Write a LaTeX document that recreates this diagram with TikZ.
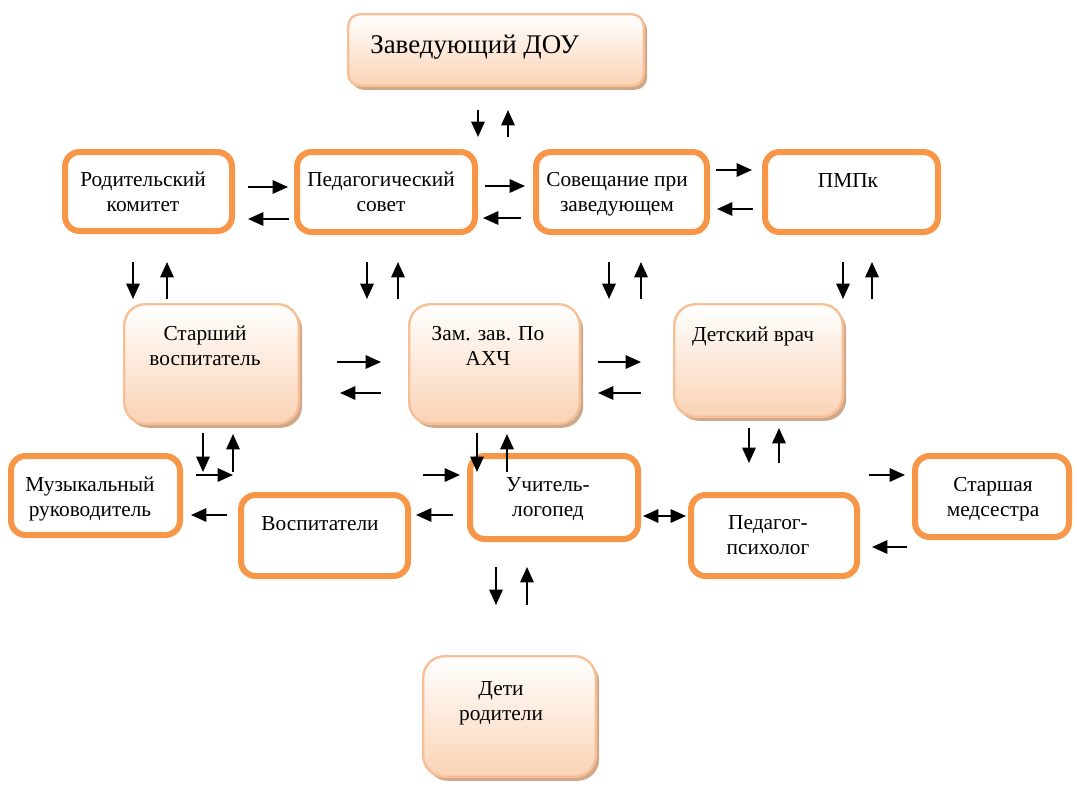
\documentclass[tikz,border=0pt]{standalone}
\usepackage{fontspec}
\setmainfont{Liberation Serif}
\usetikzlibrary{arrows.meta,shadows}
\definecolor{orng}{HTML}{F79646}
\definecolor{gbord}{HTML}{F7BF95}
\definecolor{gbot}{HTML}{FAD3B5}
\definecolor{shd}{HTML}{CDA88B}
\newcommand\obx[5]{\node[obox, minimum width={(#4-#2)*0.75pt-4.5pt}, minimum height={(#5-#3)*0.75pt-4.5pt}] (#1) at ({(#2+#4)/2},{(#3+#5)/2}) {};}
\newcommand\gbx[6]{\node[gbox, rounded corners=#6, minimum width={(#4-#2)*0.75pt-1.8pt}, minimum height={(#5-#3)*0.75pt-1.8pt}] (#1) at ({(#2+#4)/2},{(#3+#5)/2}) {};}
\newcommand\arr[6]{\coordinate (#1s) at (#3,#4); \coordinate (#1e) at (#5,#6); \draw[#2] (#1s) -- (#1e);}
\begin{document}
\begin{tikzpicture}[x=0.75pt,y=-0.75pt,
  obox/.style={draw=orng, line width=4.5pt, rounded corners=11pt, fill=white, inner sep=0pt},
  gbox/.style={draw=gbord, line width=1.8pt, top color=white, bottom color=gbot, inner sep=0pt,
    general shadow={fill=shd, shadow xshift=2.5pt, shadow yshift=-3pt}},
  lbl/.style={font=\fontsize{16pt}{18.5pt}\selectfont, align=center, inner sep=0pt, anchor=base},
  ar/.style={line width=1.5pt, -{Triangle[length=11.5pt,width=10pt]}},
  dar/.style={line width=1.5pt, {Triangle[length=11.5pt,width=10pt]}-{Triangle[length=11.5pt,width=10pt]}}]
\useasboundingbox (0,0) rectangle (1077,785);
% boxes
\gbx{zav}{347}{13}{645}{87}{9pt}
\obx{rod}{62}{149}{235}{234}
\obx{ped}{294}{149}{478}{235}
\obx{sov}{533}{149}{710}{235}
\obx{pmpk}{762}{149}{941}{235}
\gbx{star}{123}{303}{300}{425}{16pt}
\gbx{zam}{408}{303}{581}{425}{16pt}
\gbx{vrach}{673}{303}{844}{418}{16pt}
\obx{muz}{8}{453}{183}{538}
\obx{vosp}{238}{492}{411}{579}
\obx{uch}{467}{453}{641}{542}
\obx{psy}{688}{492}{860}{579}
\obx{med}{912}{453}{1072}{540}
\gbx{deti}{422}{655}{597}{778}{16pt}
% texts (multi-line: anchor base = last line)
\node[lbl, anchor=base west, font=\fontsize{20.2pt}{24pt}\selectfont] (tzav) at (370,53) {Заведующий ДОУ};
\node[lbl] (trod) at (143,211) {Родительский\\комитет};
\node[lbl] (tped) at (381,211) {Педагогический\\совет};
\node[lbl] (tsov) at (617,211) {Совещание при\\заведующем};
\node[lbl] (tpmpk) at (848,187) {ПМПк};
\node[lbl] (tstar) at (205,365) {Старший\\воспитатель};
\node[lbl] (tzam) at (488,365) {Зам. зав. По\\АХЧ};
\node[lbl] (tvrach) at (753,341) {Детский врач};
\node[lbl] (tmuz) at (90,516) {Музыкальный\\руководитель};
\node[lbl] (tvosp) at (320,530) {Воспитатели};
\node[lbl] (tuch) at (548,516) {Учитель-\\логопед};
\node[lbl] (tpsy) at (768,554) {Педагог-\\психолог};
\node[lbl] (tmed) at (993,516) {Старшая\\медсестра};
\node[lbl] (tdeti) at (501,720) {Дети\\родители};
% arrows
\arr{a1}{ar}{478}{110}{478}{137}
\arr{a2}{ar}{508}{137}{508}{110}
\arr{a3}{ar}{248}{187}{288}{187}
\arr{a4}{ar}{289}{219}{248}{219}
\arr{a5}{ar}{485}{186}{525}{186}
\arr{a6}{ar}{521}{218}{483}{218}
\arr{a7}{ar}{716}{170}{752}{170}
\arr{a8}{ar}{753}{209}{717}{209}
\arr{b1}{ar}{133}{262}{133}{299}
\arr{b2}{ar}{167}{299}{167}{262}
\arr{b3}{ar}{367}{262}{367}{299}
\arr{b4}{ar}{398}{299}{398}{262}
\arr{b5}{ar}{609}{262}{609}{299}
\arr{b6}{ar}{641}{299}{641}{262}
\arr{b7}{ar}{843}{262}{843}{299}
\arr{b8}{ar}{872}{299}{872}{262}
\arr{c1}{ar}{337}{362}{381}{362}
\arr{c2}{ar}{381}{393}{340}{393}
\arr{c3}{ar}{598}{362}{641}{362}
\arr{c4}{ar}{641}{393}{598}{393}
\arr{d1}{ar}{203}{433}{203}{472}
\arr{d2}{ar}{233}{472}{233}{434}
\arr{d3}{ar}{196}{475}{233}{475}
\arr{d4}{ar}{227}{515}{191}{515}
\arr{e1}{ar}{477}{433}{477}{472}
\arr{e2}{ar}{507}{472}{507}{434}
\arr{e3}{ar}{423}{475}{460}{475}
\arr{e4}{ar}{453}{515}{416}{515}
\arr{f1}{dar}{643}{516}{686}{516}
\arr{g1}{ar}{749}{428}{749}{463}
\arr{g2}{ar}{779}{463}{779}{428}
\arr{h1}{ar}{869}{475}{905}{475}
\arr{h2}{ar}{907}{547}{872}{547}
\arr{k1}{ar}{496}{567}{496}{605}
\arr{k2}{ar}{527}{605}{527}{567}
\end{tikzpicture}
\end{document}
